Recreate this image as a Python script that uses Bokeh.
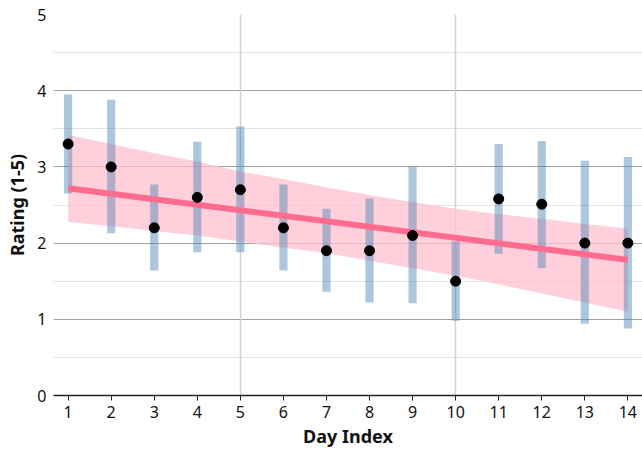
from bokeh.plotting import figure
from bokeh.models import ColumnDataSource, FixedTicker, Grid, Range1d
from bokeh.embed import file_html
from bokeh.resources import INLINE

days = list(range(1, 15))
mean_rating = [3.3, 3.0, 2.2, 2.6, 2.7, 2.2, 1.9, 1.9, 2.1, 1.5, 2.58, 2.51, 2.0, 2.0]
err_low = [2.65, 2.13, 1.64, 1.88, 1.88, 1.64, 1.36, 1.22, 1.21, 0.98, 1.86, 1.67, 0.94, 0.88]
err_high = [3.95, 3.88, 2.77, 3.33, 3.53, 2.77, 2.45, 2.59, 3.0, 2.02, 3.30, 3.34, 3.08, 3.13]
band_upper = [3.42, 3.30, 3.18, 3.07, 2.94, 2.84, 2.73, 2.63, 2.54, 2.45, 2.38, 2.32, 2.25, 2.19]
band_lower = [2.28, 2.22, 2.16, 2.10, 2.02, 1.94, 1.87, 1.77, 1.67, 1.57, 1.46, 1.34, 1.22, 1.10]
trend_x = [1, 14]
trend_y = [2.72, 1.78]
x_ticks = list(range(1, 15))
y_ticks = [0, 1, 2, 3, 4, 5]

src = ColumnDataSource(dict(day=days, mean=mean_rating, lo=err_low, hi=err_high,
                            bu=band_upper, bl=band_lower))

FONT = "Noto Sans"

p = figure(width=642, height=450, output_backend="svg", toolbar_location=None,
           x_range=Range1d(0.66, 14.34), y_range=Range1d(0, 5),
           min_border_left=53, min_border_top=14, min_border_right=0, min_border_bottom=54)
p.outline_line_color = None
p.background_fill_color = "white"

# grids
p.xgrid.visible = False
p.ygrid.visible = False
g_light = Grid(dimension=1, ticker=FixedTicker(ticks=[0.5, 1.5, 2.5, 3.5, 4.5]),
               grid_line_color="#e3e3e3", grid_line_width=1)
g_top = Grid(dimension=1, ticker=FixedTicker(ticks=[5]),
             grid_line_color="#c8c8c8", grid_line_width=2)
g_major = Grid(dimension=1, ticker=FixedTicker(ticks=[1, 2, 3, 4]),
               grid_line_color="#a0a0a0", grid_line_width=1)
g_vert = Grid(dimension=0, ticker=FixedTicker(ticks=[5, 10]),
              grid_line_color="#d2d2d2", grid_line_width=1.5)
for g in (g_light, g_top, g_major, g_vert):
    p.add_layout(g)

# band
p.varea(x="day", y1="bl", y2="bu", source=src, fill_color="#ffc0cf", fill_alpha=0.75)
# error bars
p.vbar(x="day", bottom="lo", top="hi", width=0.19, source=src,
       fill_color="steelblue", fill_alpha=0.45, line_color=None)
# trend line
p.line(trend_x, trend_y, line_color="#ff6b8f", line_width=6)
# means
p.scatter(x="day", y="mean", source=src, size=10, color="black")

# axes
p.xaxis.ticker = FixedTicker(ticks=x_ticks)
p.yaxis.ticker = FixedTicker(ticks=y_ticks)
p.xaxis.axis_label = "Day Index"
p.yaxis.axis_label = "Rating (1-5)"
for ax in (p.xaxis[0], p.yaxis[0]):
    ax.axis_label_text_font = FONT
    ax.axis_label_text_font_style = "bold"
    ax.axis_label_text_font_size = "18px"
    ax.axis_label_text_color = "#111111"
    ax.major_label_text_font = FONT
    ax.major_label_text_font_size = "16px"
    ax.major_label_text_color = "#111111"
    ax.minor_tick_line_color = None
p.xaxis.axis_line_color = "#222222"
p.xaxis.axis_line_width = 1.5
p.xaxis.major_tick_line_color = "#222222"
p.xaxis.major_tick_in = 0
p.xaxis.major_tick_out = 5
p.xaxis.major_label_standoff = 5
p.xaxis.axis_label_standoff = 3
p.yaxis.axis_line_color = None
p.yaxis.major_tick_line_color = None
p.yaxis.major_tick_in = 0
p.yaxis.major_tick_out = 0
p.yaxis.major_label_standoff = 7
p.yaxis.axis_label_standoff = 5

open("out.html", "w").write(file_html(p, INLINE))
